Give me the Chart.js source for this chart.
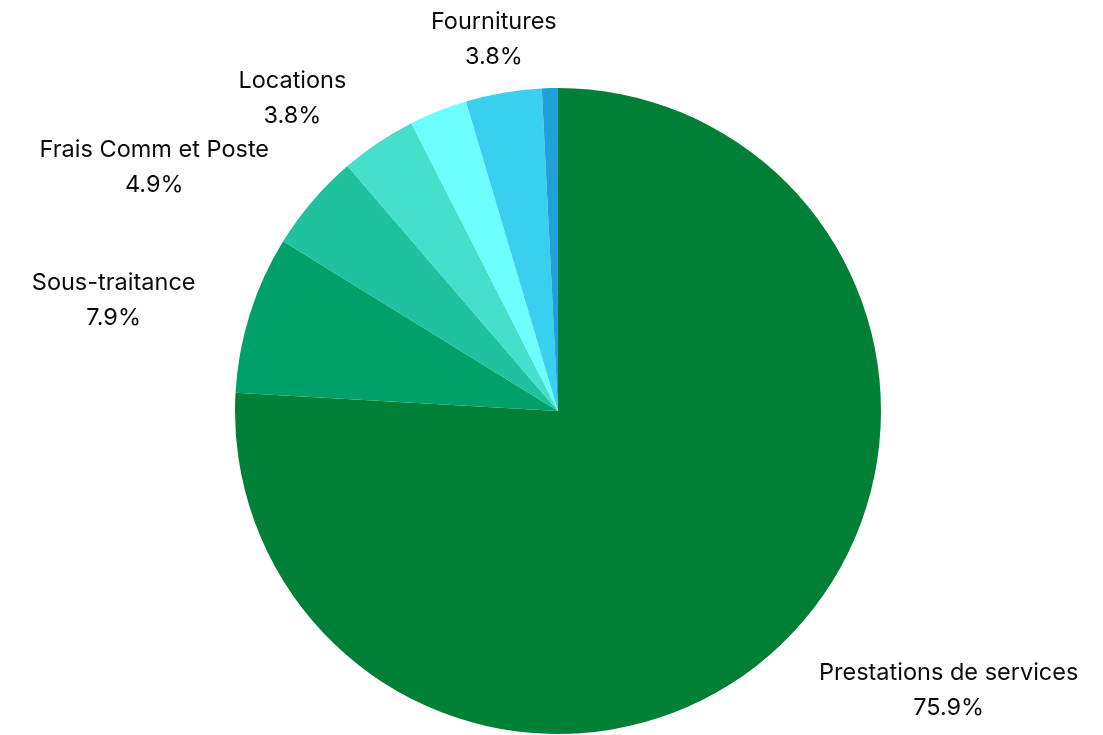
<!DOCTYPE html>
<html>
<head>
<meta charset="utf-8">
<script src="https://cdn.jsdelivr.net/npm/chart.js@4.4.0/dist/chart.umd.min.js"></script>
<style>
  html, body { margin: 0; padding: 0; background: #fff; }
  #wrap { width: 1103px; height: 735px; }
</style>
</head>
<body>
<div id="wrap"><canvas id="pieChart"></canvas></div>
<script>
// data
const categories = ['Prestations de services', 'Sous-traitance', 'Frais Comm et Poste', 'Locations', '', 'Fournitures', ''];
const values = [75.9, 7.9, 4.9, 3.8, 2.9, 3.8, 0.8];
const colors = ['#007f36', '#00a06a', '#1fc29e', '#45dfcc', '#6cfeff', '#38d0ee', '#1fa0d8'];

// labels outside the slices, two lines, block pushed away from the centre
const outsideLabels = {
  id: 'outsideLabels',
  afterDraw(chart) {
    const ctx = chart.ctx;
    const meta = chart.getDatasetMeta(0);
    const total = values.reduce((a, b) => a + b, 0);
    ctx.save();
    ctx.font = '23.5px Inter';
    ctx.fillStyle = '#0a0a0a';
    ctx.textBaseline = 'middle';
    ctx.textAlign = 'center';
    meta.data.forEach((arc, i) => {
      if (!categories[i]) return;
      const mid = (arc.startAngle + arc.endAngle) / 2;
      const r = arc.outerRadius + 57;
      const ax = arc.x + Math.cos(mid) * r;
      const ay = arc.y + Math.sin(mid) * r + 3;
      const lines = [categories[i], (values[i] / total * 100).toFixed(1) + '%'];
      const w = Math.max(...lines.map(t => ctx.measureText(t).width));
      let cx = ax;
      const c = Math.cos(mid);
      if (c > 0.3) cx = ax + w / 2;
      else if (c < -0.3) cx = ax - w / 2;
      ctx.fillText(lines[0], cx, ay - 17.5);
      ctx.fillText(lines[1], cx, ay + 17.5);
    });
    ctx.restore();
  }
};

new Chart(document.getElementById('pieChart'), {
  type: 'pie',
  data: {
    labels: categories,
    datasets: [{
      data: values,
      backgroundColor: colors,
      borderWidth: 0
    }]
  },
  options: {
    responsive: true,
    maintainAspectRatio: false,
    animation: false,
    layout: { padding: { top: 88, bottom: 1, left: 235, right: 222 } },
    plugins: {
      legend: { display: false },
      tooltip: { enabled: false }
    }
  },
  plugins: [outsideLabels]
});
</script>
</body>
</html>
